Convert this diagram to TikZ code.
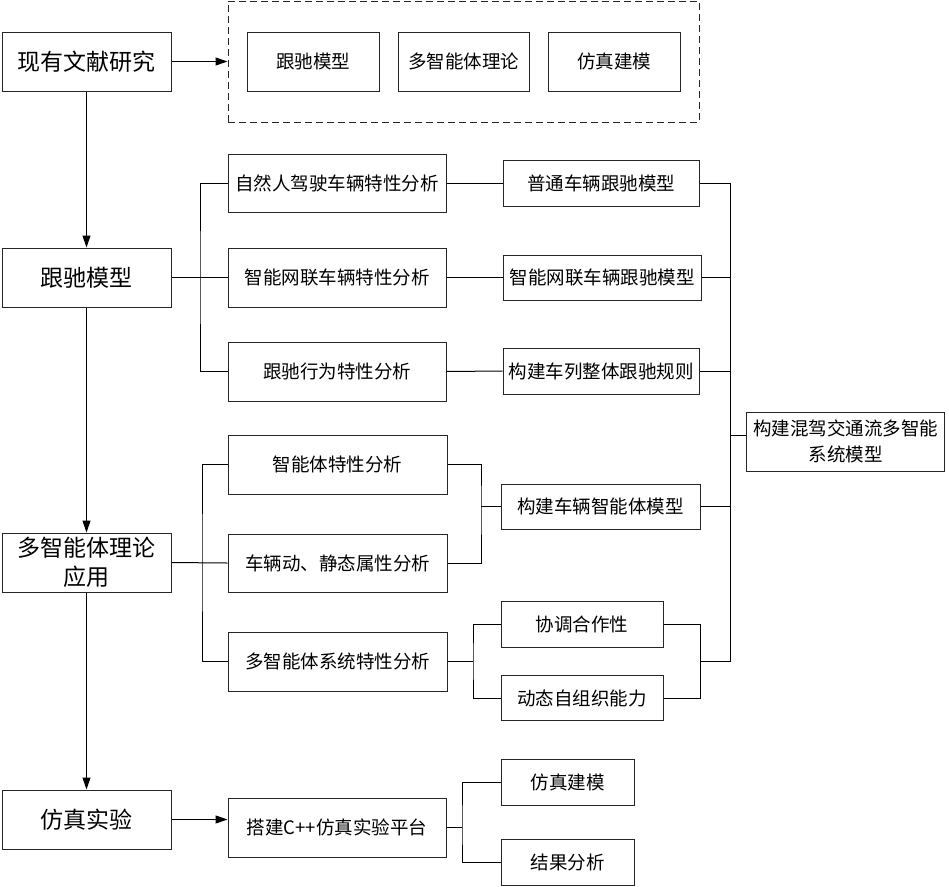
\documentclass[tikz,border=0pt]{standalone}
\usepackage{fontspec}
\setmainfont{Noto Sans CJK SC}
\usetikzlibrary{arrows.meta}

\begin{document}
\begin{tikzpicture}[x=1pt, y=-1pt, line width=1pt,
        box/.style={draw=black!85, inner sep=0pt, minimum height=59pt,
          align=center, font=\fontsize{18.5}{26}\selectfont},
        mainbox/.style={box, minimum width=169pt,
          font=\fontsize{23}{29}\selectfont},
        arr/.style={-{Triangle[length=12pt, width=8pt]}}]
        \useasboundingbox (0,0) rectangle (949,886);

        \node [mainbox] (lit) at (86.5,61.5) {现有文献研究};
        \node [mainbox] (car) at (86.5,277.5) {跟驰模型};
        \node [mainbox] (mas) at (86.5,562.5) {多智能体理论\\应用};
        \node [mainbox] (sim) at (86.5,819.5) {仿真实验};

        \node [draw=black!85, dash pattern=on 7pt off 4pt, minimum width=471pt,
          minimum height=121pt] (grp) at (463.5,61.5) {};
        \node [box, minimum width=132pt] (g1) at (313,61.5) {跟驰模型};
        \node [box, minimum width=131pt] (g2) at (463.5,61.5) {多智能体理论};
        \node [box, minimum width=132pt] (g3) at (614,61.5) {仿真建模};

        \node [box, minimum width=218pt, minimum height=58pt] (a1) at (337,183)
          {自然人驾驶车辆特性分析};
        \node [box, minimum width=218pt] (a2) at (337,277.5) {智能网联车辆特性分析};
        \node [box, minimum width=218pt] (a3) at (337,371.5) {跟驰行为特性分析};
        \node [box, minimum width=196pt, minimum height=46pt] (b1) at (601,183)
          {普通车辆跟驰模型};
        \node [box, minimum width=198pt, minimum height=45pt] (b2) at (602,277.5)
          {智能网联车辆跟驰模型};
        \node [box, minimum width=196pt, minimum height=46pt] (b3) at (601,371)
          {构建车列整体跟驰规则};

        \node [box, minimum width=219pt] (c1) at (337.5,464.5) {智能体特性分析};
        \node [box, minimum width=219pt, minimum height=58pt] (c2) at (337.5,563)
          {车辆动、静态属性分析};
        \node [box, minimum width=219pt] (c3) at (337.5,661.5) {多智能体系统特性分析};
        \node [box, minimum width=199pt, minimum height=45pt] (d1) at (600.5,506.5)
          {构建车辆智能体模型};
        \node [box, minimum width=162pt, minimum height=46pt] (e1) at (582,624)
          {协调合作性};
        \node [box, minimum width=162pt, minimum height=45pt] (e2) at (582,698)
          {动态自组织能力};

        \node [box, minimum width=198pt] (final) at (845.5,441.5)
          {构建混驾交通流多智能\\系统模型};

        \node [box, minimum width=218pt] (plat) at (337,827.5) {搭建C++仿真实验平台};
        \node [box, minimum width=133pt, minimum height=46pt] (f1) at (567.5,782.5)
          {仿真建模};
        \node [box, minimum width=133pt, minimum height=46pt] (f2) at (567.5,862)
          {结果分析};

        \coordinate (ja) at (200,277.5);
        \coordinate (jm) at (202,562.5);
        \coordinate (jc) at (481,506.5);
        \coordinate (jl) at (473,661.5);
        \coordinate (je) at (700,661.5);
        \coordinate (sp) at (730,435);
        \coordinate (jp) at (462,827.5);

        \draw [arr] (lit.east) -- (grp.west);
        \draw [arr] (lit.south) -- (car.north);
        \draw [arr] (car.south) -- (mas.north);
        \draw [arr] (mas.south) -- (sim.north);
        \draw [arr] (sim.east) -- (sim.east -| plat.west);

        \draw (car.east) -- (a2.west);
        \draw (a1.west) -| (ja) |- (a3.west);
        \draw (a1.east) -- (b1.west);
        \draw (a2.east) -- (b2.west);
        \draw (a3.east) -- (b3.west);

        \draw (mas.east) -- (c2.west);
        \draw (c1.west) -| (jm) |- (c3.west);
        \draw (c1.east) -| (jc) |- (c2.east);
        \draw (jc) -- (d1.west);
        \draw (c3.east) -- (jl);
        \draw (e1.west) -| (jl) |- (e2.west);
        \draw (e1.east) -| (je) |- (e2.east);

        \draw (b1.east) -| (sp) -- (sp |- je) -- (je);
        \draw (b2.east) -- (b2.east -| sp);
        \draw (b3.east) -- (b3.east -| sp);
        \draw (d1.east) -- (d1.east -| sp);
        \draw (sp) -- (sp -| final.west);

        \draw (plat.east) -- (jp);
        \draw (f1.west) -| (jp) |- (f2.west);

\end{tikzpicture}
\end{document}
